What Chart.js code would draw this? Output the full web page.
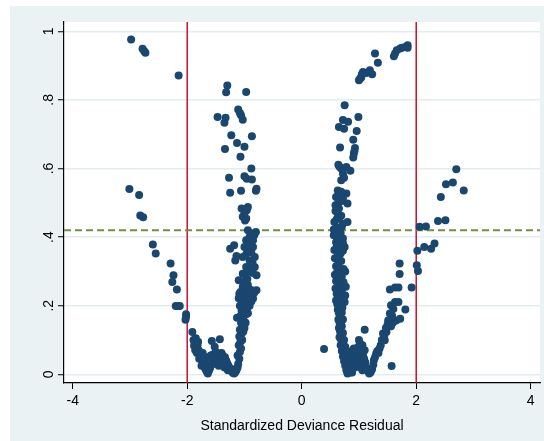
<!DOCTYPE html>
<html>
<head>
<meta charset="utf-8">
<script src="https://cdn.jsdelivr.net/npm/chart.js@4"></script>
<style>
  html, body { margin: 0; padding: 0; background: #fff; }
  #wrap { position: absolute; left: 10px; top: 6px; width: 534px; height: 435px; background: #EAF2F3; }
</style>
</head>
<body>
<div id="wrap"><canvas id="residPlot"></canvas></div>
<script>
/* ===== Residual vs. predicted probability, grouped by arm of the plot ===== */
const leftTail = [
  [-2.98, .976], [-2.78, .949], [-2.75, .942], [-2.73, .937], [-2.15, .871],
  [-3.01, .540], [-2.84, .523], [-2.82, .463], [-2.77, .458], [-2.60, .378],
  [-2.55, .352], [-2.29, .323], [-2.24, .289], [-2.26, .269], [-2.18, .247],
  [-2.20, .199], [-2.13, .199], [-2.16, .199], [-2.02, .175], [-2.03, .159], [-2.02, .168]
];
const leftBottom = [
  [-1.91, .123], [-1.89, .100], [-1.87, .092], [-1.85, .105], [-1.88, .083], [-1.84, .078],
  [-1.82, .085], [-1.80, .070], [-1.83, .062], [-1.78, .058], [-1.76, .050], [-1.79, .045],
  [-1.74, .040], [-1.72, .032], [-1.75, .025], [-1.70, .022], [-1.68, .015], [-1.66, .008],
  [-1.64, .002], [-1.62, .010], [-1.60, .018], [-1.61, .030], [-1.58, .035], [-1.56, .045],
  [-1.59, .055], [-1.55, .058], [-1.57, .097], [-1.52, .080], [-1.50, .065], [-1.48, .052],
  [-1.53, .040], [-1.46, .040], [-1.43, .102], [-1.44, .060], [-1.42, .048], [-1.40, .062],
  [-1.38, .055], [-1.36, .045], [-1.39, .035], [-1.34, .050], [-1.32, .040], [-1.30, .032],
  [-1.33, .025], [-1.28, .025], [-1.26, .018], [-1.29, .012], [-1.24, .012], [-1.22, .008],
  [-1.20, .004], [-1.18, .002], [-1.16, .006], [-1.14, .012], [-1.12, .020], [-1.17, .015],
  [-1.50, .030], [-1.45, .025], [-1.41, .030], [-1.35, .020], [-1.63, .040], [-1.69, .050],
  [-1.73, .062], [-1.81, .095], [-1.86, .070]
];
const leftRise = [
  [-1.11, .030], [-1.09, .045], [-1.12, .055], [-1.08, .065], [-1.06, .075], [-1.10, .085],
  [-1.07, .095], [-1.04, .100], [-1.09, .110], [-1.05, .118], [-1.02, .125], [-1.08, .130],
  [-1.03, .140], [-1.00, .135], [-1.06, .150], [-1.01, .155], [-0.98, .150], [-1.13, .165],
  [-1.07, .170], [-1.03, .172], [-0.97, .175], [-0.94, .178], [-1.05, .185], [-1.00, .190],
  [-0.95, .195], [-0.91, .200], [-1.08, .200], [-1.03, .205], [-0.98, .210], [-0.93, .215],
  [-0.88, .212], [-1.10, .222], [-1.05, .228], [-1.00, .225], [-0.96, .232], [-0.90, .230],
  [-0.85, .221], [-0.79, .245], [-0.83, .238], [-1.07, .240], [-1.02, .245], [-0.97, .250],
  [-0.92, .248], [-0.87, .245], [-1.09, .235], [-1.03, .255], [-0.94, .260], [-1.10, .274],
  [-1.00, .270], [-0.95, .278], [-1.03, .293], [-0.98, .290], [-0.93, .300], [-0.88, .305],
  [-0.97, .313], [-0.82, .313], [-0.79, .289], [-0.85, .295], [-0.91, .332], [-0.86, .325],
  [-1.16, .332], [-1.14, .345], [-1.03, .342], [-0.97, .350], [-0.82, .342], [-0.88, .355],
  [-1.25, .366], [-1.18, .376], [-1.00, .371], [-0.94, .365], [-0.85, .371], [-0.90, .380],
  [-0.97, .391], [-0.91, .400], [-0.85, .391], [-0.88, .410], [-0.80, .415], [-0.83, .405],
  [-0.94, .420]
];
const leftUpper = [
  [-1.03, .459], [-0.97, .454], [-0.94, .488], [-1.05, .483], [-1.00, .470], [-0.96, .478],
  [-0.99, .448], [-1.06, .535], [-1.25, .529], [-1.27, .573], [-1.00, .577], [-0.96, .570],
  [-0.87, .568], [-0.80, .535], [-0.79, .541], [-0.88, .600], [-1.34, .657], [-1.13, .674],
  [-1.00, .663], [-1.07, .634], [-1.23, .697], [-0.87, .694], [-1.47, .750], [-1.35, .733],
  [-1.33, .748], [-1.11, .772], [-1.08, .762], [-1.06, .755], [-1.03, .742], [-1.32, .822],
  [-1.30, .842], [-0.97, .823]
];
const rightColumn = [
  [0.80, .002], [0.78, .012], [0.81, .018], [0.76, .025], [0.79, .030], [0.74, .038],
  [0.77, .045], [0.72, .052], [0.75, .060], [0.70, .068], [0.73, .075], [0.68, .085],
  [0.71, .092], [0.69, .100], [0.66, .108], [0.70, .115], [0.67, .125], [0.65, .135],
  [0.68, .142], [0.66, .150], [0.64, .160], [0.67, .168], [0.65, .178], [0.63, .188],
  [0.66, .195], [0.62, .205], [0.68, .210], [0.75, .211], [0.72, .215], [0.60, .215],
  [0.64, .225], [0.61, .235], [0.66, .240], [0.70, .245], [0.59, .250], [0.63, .258],
  [0.68, .262], [0.73, .268], [0.60, .272], [0.65, .280], [0.70, .285], [0.58, .290],
  [0.62, .298], [0.67, .302], [0.73, .307], [0.76, .300], [0.60, .315], [0.64, .322],
  [0.69, .330], [0.58, .338], [0.63, .345], [0.68, .352], [0.72, .360], [0.57, .362],
  [0.61, .370], [0.66, .375], [0.75, .371], [0.72, .382], [0.60, .385], [0.65, .395],
  [0.72, .396], [0.56, .405], [0.62, .408], [0.68, .412], [0.56, .422], [0.63, .428],
  [0.70, .430], [0.72, .439], [0.80, .444], [0.57, .444], [0.61, .452], [0.66, .458],
  [0.69, .462], [0.63, .468], [0.59, .476], [0.65, .483], [0.59, .493], [0.64, .500],
  [0.70, .505], [0.80, .498], [0.60, .517], [0.66, .507], [0.72, .512], [0.63, .536],
  [0.69, .532], [0.78, .527], [0.65, .525], [0.69, .566], [0.74, .573], [0.72, .585],
  [0.78, .604], [0.85, .593], [0.64, .611], [0.69, .600], [0.66, .605],
  [0.72, .120], [0.74, .100], [0.76, .080], [0.70, .140], [0.72, .160], [0.70, .180],
  [0.71, .195], [0.68, .228], [0.76, .230], [0.77, .255]
];
const rightUpperCol = [
  [0.75, .784], [0.65, .721], [0.72, .741], [0.81, .736], [0.74, .716], [0.99, .750],
  [0.96, .709], [0.90, .684], [0.67, .661], [0.93, .660], [0.92, .650], [0.91, .643], [0.90, .632]
];
const rightBottom = [
  [0.39, .074], [0.83, .010], [0.85, .020], [0.87, .030], [0.84, .045], [0.88, .050],
  [0.90, .040], [0.86, .065], [0.89, .070], [0.92, .060], [0.94, .050], [0.91, .075],
  [0.95, .072], [0.97, .065], [0.99, .080], [1.00, .100], [1.02, .090], [1.04, .075],
  [1.06, .085], [1.03, .060], [1.01, .050], [0.98, .040], [1.05, .040], [1.07, .055],
  [1.09, .045], [1.11, .035], [1.08, .030], [1.12, .020], [1.14, .015], [1.16, .008],
  [1.18, .002], [1.20, .005], [1.22, .012], [1.10, .130], [1.10, .070], [0.96, .030],
  [0.93, .020], [1.00, .025], [1.03, .020], [1.06, .012], [0.88, .005], [0.85, .005], [1.57, .024]
];
const rightRise = [
  [1.23, .017], [1.25, .028], [1.26, .041], [1.28, .050], [1.30, .060], [1.32, .068],
  [1.34, .062], [1.36, .075], [1.38, .085], [1.40, .100], [1.42, .119], [1.45, .099],
  [1.44, .110], [1.48, .123], [1.47, .135], [1.51, .157], [1.50, .145], [1.54, .177],
  [1.56, .140], [1.59, .150], [1.56, .201], [1.63, .211], [1.69, .211], [1.65, .157],
  [1.72, .162], [1.81, .189], [1.54, .247], [1.63, .253], [1.69, .253], [1.71, .292],
  [1.71, .323], [1.92, .253], [1.60, .190], [1.58, .170]
];
const rightTop = [
  [1.00, .857], [1.02, .862], [1.04, .865], [1.07, .881], [1.05, .875], [1.13, .878],
  [1.19, .886], [1.23, .875], [1.28, .935], [1.33, .908], [1.61, .927], [1.63, .935],
  [1.66, .945], [1.72, .950], [1.75, .952], [1.81, .954], [1.85, .959], [1.85, .952]
];
const rightTail = [
  [2.01, .318], [2.03, .301], [2.02, .360], [2.14, .371], [2.26, .366], [2.32, .381],
  [2.06, .430], [2.17, .431], [2.38, .447], [2.51, .449], [2.43, .517], [2.52, .554],
  [2.64, .559], [2.70, .598], [2.83, .536]
];

const xTicks = [-4, -2, 0, 2, 4];
const yTicks = [0, 0.2, 0.4, 0.6, 0.8, 1];
const yTickLabels = ['0', '.2', '.4', '.6', '.8', '1'];
const residualCutoffs = [-2, 2];
const probCutoff = 0.42;

const FONT = '"Liberation Sans", Arial, sans-serif';
const NAVY = '#1A476F';

const points = [].concat(leftTail, leftBottom, leftRise, leftUpper, rightColumn,
  rightUpperCol, rightBottom, rightRise, rightTop, rightTail).map(([x, y]) => ({ x, y }));

/* white plot region, reference lines and the rotated y labels */
const plotDecor = {
  id: 'plotDecor',
  beforeDraw(chart) {
    const { ctx, chartArea: a } = chart;
    ctx.save();
    ctx.fillStyle = '#fff';
    ctx.fillRect(a.left, a.top, a.right - a.left, a.bottom - a.top);
    ctx.restore();
  },
  beforeDatasetsDraw(chart) {
    const { ctx, chartArea: a, scales: { x, y } } = chart;
    ctx.save();
    ctx.strokeStyle = '#C8102E';
    ctx.lineWidth = 1.5;
    residualCutoffs.forEach(v => {
      const px = x.getPixelForValue(v);
      ctx.beginPath();
      ctx.moveTo(px, a.top);
      ctx.lineTo(px, a.bottom);
      ctx.stroke();
    });
    ctx.strokeStyle = '#729043';
    ctx.lineWidth = 2;
    ctx.setLineDash([7, 4]);
    const py = y.getPixelForValue(probCutoff);
    ctx.beginPath();
    ctx.moveTo(a.left, py);
    ctx.lineTo(a.right, py);
    ctx.stroke();
    ctx.restore();
  },
  afterDraw(chart) {
    const { ctx, chartArea: a, scales: { y } } = chart;
    ctx.save();
    ctx.fillStyle = '#000';
    ctx.font = '14px ' + FONT;
    ctx.textAlign = 'center';
    ctx.textBaseline = 'middle';
    yTicks.forEach((v, i) => {
      ctx.save();
      ctx.translate(a.left - 15, y.getPixelForValue(v));
      ctx.rotate(-Math.PI / 2);
      ctx.fillText(yTickLabels[i], 0, 0);
      ctx.restore();
    });
    ctx.restore();
  }
};

new Chart(document.getElementById('residPlot'), {
  type: 'scatter',
  data: {
    datasets: [{
      data: points,
      backgroundColor: NAVY,
      borderColor: NAVY,
      borderWidth: 0,
      pointRadius: 4,
      pointHoverRadius: 4
    }]
  },
  options: {
    responsive: true,
    maintainAspectRatio: false,
    animation: false,
    devicePixelRatio: 1,
    layout: { padding: { top: 16, right: 4, left: 0, bottom: 0 } },
    plugins: { legend: { display: false }, tooltip: { enabled: false } },
    scales: {
      x: {
        type: 'linear',
        min: -4.152,
        max: 4.162,
        afterBuildTicks: s => { s.ticks = xTicks.map(v => ({ value: v })); },
        afterFit: s => { s.height = 58; },
        grid: { drawOnChartArea: false, tickLength: 6, tickColor: '#000', tickWidth: 1 },
        border: { color: '#000', width: 1.2 },
        ticks: { color: '#000', font: { family: FONT, size: 14 }, padding: 4, maxRotation: 0, autoSkip: false },
        title: {
          display: true,
          text: 'Standardized Deviance Residual',
          color: '#000',
          font: { family: FONT, size: 14 },
          padding: { top: 4, bottom: 6 }
        }
      },
      y: {
        type: 'linear',
        min: -0.0254,
        max: 1.027,
        afterBuildTicks: s => { s.ticks = yTicks.map(v => ({ value: v })); },
        afterFit: s => { s.width = 54; },
        grid: { color: '#E3ECEF', lineWidth: 1.5, tickLength: 6, tickColor: '#000', tickWidth: 1 },
        border: { color: '#000', width: 1.2 },
        ticks: { display: false }
      }
    }
  },
  plugins: [plotDecor]
});
</script>
</body>
</html>
